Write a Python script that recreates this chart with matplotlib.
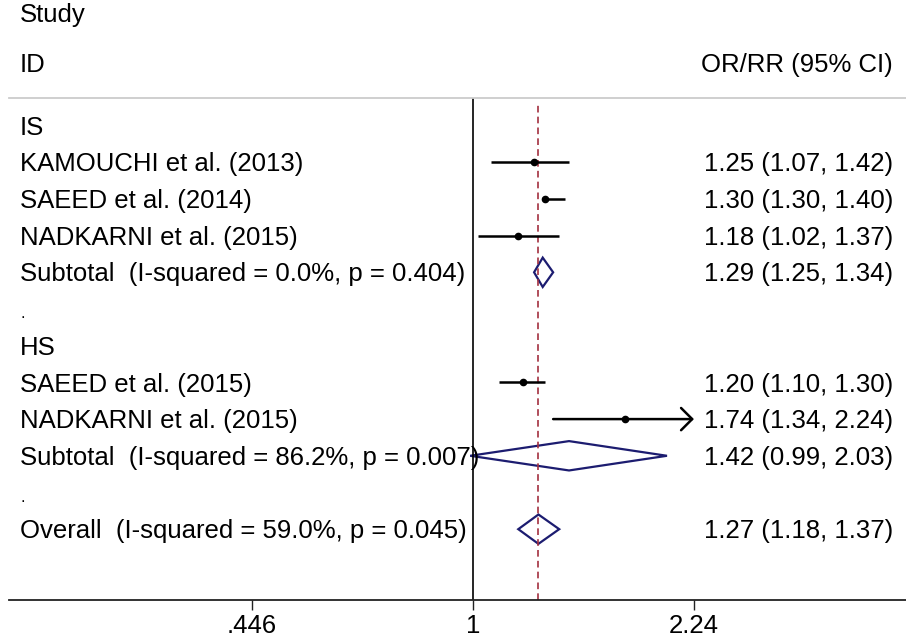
import numpy as np
import matplotlib
matplotlib.use('Agg')
import matplotlib.pyplot as plt
from matplotlib.patches import Polygon
from matplotlib.transforms import blended_transform_factory

plt.rcParams['font.family'] = ['Liberation Sans', 'DejaVu Sans']

# rows of the forest plot, top to bottom
labels = ['IS',
          'KAMOUCHI et al. (2013)',
          'SAEED et al. (2014)',
          'NADKARNI et al. (2015)',
          'Subtotal  (I-squared = 0.0%, p = 0.404)',
          '.',
          'HS',
          'SAEED et al. (2015)',
          'NADKARNI et al. (2015)',
          'Subtotal  (I-squared = 86.2%, p = 0.007)',
          '.',
          'Overall  (I-squared = 59.0%, p = 0.045)']
kinds = ['head', 'study', 'study', 'study', 'pooled', 'gap',
         'head', 'study', 'study', 'pooled', 'gap', 'pooled']
est = [None, 1.25, 1.30, 1.18, 1.29, None, None, 1.20, 1.74, 1.42, None, 1.27]
lower = [None, 1.07, 1.30, 1.02, 1.25, None, None, 1.10, 1.34, 0.99, None, 1.18]
upper = [None, 1.42, 1.40, 1.37, 1.34, None, None, 1.30, 2.24, 2.03, None, 1.37]

xticks = [0.446, 1, 2.24]
xtick_labels = ['.446', '1', '2.24']
overall_est = 1.27

navy = '#1c1c70'
maroon = '#a3303f'
fs = 18.5

fig = plt.figure(figsize=(9.06, 6.42), dpi=100)
ax = fig.add_axes([9 / 906, 42 / 642, 897 / 906, 502 / 642])
ax.set_xscale('log')
ax.set_xlim(0.184, 4.856)
ax.set_ylim(12.93, -0.75)

ax.set_xticks(xticks)
ax.set_xticklabels(xtick_labels)
ax.minorticks_off()
ax.set_yticks([])
ax.tick_params(axis='x', length=7, width=1, color='#222222', pad=3, labelsize=fs)
for s in ['left', 'right']:
    ax.spines[s].set_visible(False)
ax.spines['top'].set_color('#cccccc')
ax.spines['top'].set_linewidth(1.3)
ax.spines['bottom'].set_color('#222222')
ax.spines['bottom'].set_linewidth(1.3)

ax.axvline(1, color='black', lw=1.2)
ax.axvline(overall_est, ymax=0.99, color=maroon, lw=1.2, dashes=(4, 2.5))

tr = blended_transform_factory(fig.transFigure, ax.transData)
for i, (lab, k) in enumerate(zip(labels, kinds)):
    ax.text(20 / 906, i + 0.25, lab, transform=tr, ha='left', va='baseline',
            fontsize=12 if k == 'gap' else fs, clip_on=False)
    if est[i] is None:
        continue
    ax.text(893 / 906, i + 0.25, f'{est[i]:.2f} ({lower[i]:.2f}, {upper[i]:.2f})',
            transform=tr, ha='right', va='baseline', fontsize=fs, clip_on=False)
    if k == 'study':
        if upper[i] >= xticks[-1]:
            # CI runs past the axis limit: open arrow
            ax.annotate('', xy=(upper[i], i), xytext=(lower[i], i),
                        arrowprops=dict(arrowstyle='->,head_length=0.8,head_width=0.8',
                                        lw=1.8, color='black', shrinkA=0, shrinkB=0,
                                        mutation_scale=10))
        else:
            ax.plot([lower[i], upper[i]], [i, i], color='black', lw=1.8,
                    solid_capstyle='butt')
        ax.plot(est[i], i, 'o', color='black', ms=4.5)
    else:
        h = 0.4
        pts = [(lower[i], i), (est[i], i - h), (upper[i], i), (est[i], i + h)]
        ax.add_patch(Polygon(pts, closed=True, fill=False, edgecolor=navy, lw=1.6))

# column headers
fig.text(20 / 906, 1 - 22 / 642, 'Study', ha='left', va='baseline', fontsize=fs)
fig.text(20 / 906, 1 - 72 / 642, 'ID', ha='left', va='baseline', fontsize=fs)
fig.text(893 / 906, 1 - 72 / 642, 'OR/RR (95% CI)', ha='right', va='baseline', fontsize=fs)

fig.savefig('out.png', dpi=100)
